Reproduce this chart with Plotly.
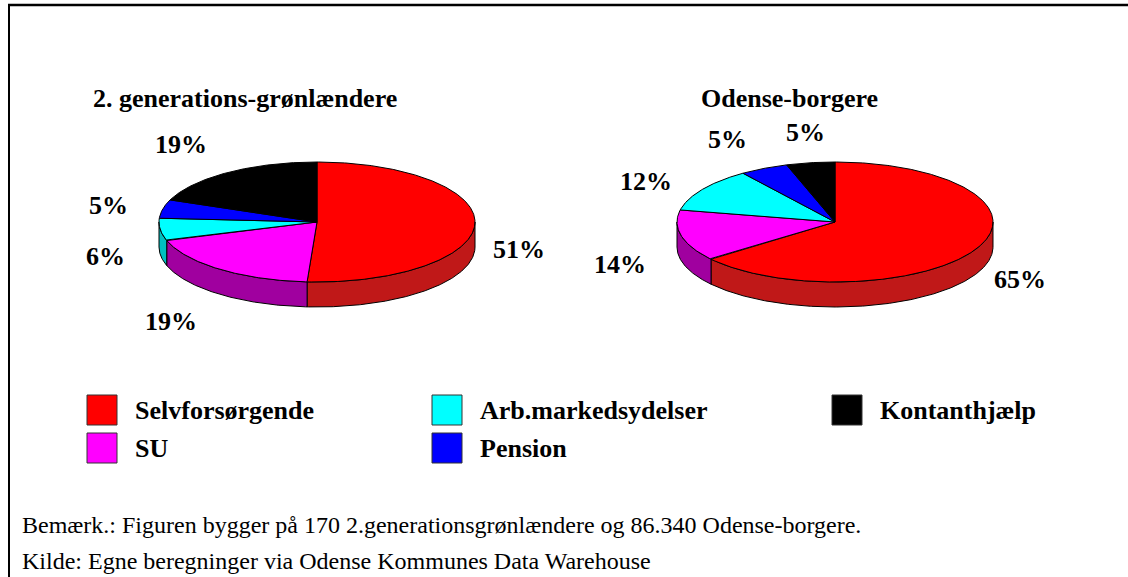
import numpy as np
import plotly.graph_objects as go

# ---------------- data ----------------
categories = ["Selvforsørgende", "SU", "Arb.markedsydelser", "Pension", "Kontanthjælp"]
pie_titles = ["2. generations-grønlændere", "Odense-borgere"]
values_groenlaendere = [51, 19, 6, 5, 19]
values_odense = [65, 14, 12, 5, 5]
notes = [
    "Bemærk.: Figuren bygger på 170 2.generationsgrønlændere og 86.340 Odense-borgere.",
    "Kilde: Egne beregninger via Odense Kommunes Data Warehouse",
]

# ---------------- style ----------------
top_colors = ["#FF0000", "#FF00FF", "#00FFFF", "#0000FF", "#000000"]
side_colors = ["#C01818", "#A0009F", "#00C0C0", "#0000C0", "#000000"]
FONT = "Liberation Serif"
W, H = 1128, 577

pies = [
    dict(values=values_groenlaendere, title=pie_titles[0], cx=317, cy=222, title_x=245),
    dict(values=values_odense, title=pie_titles[1], cx=835, cy=222, title_x=789),
]
RX, RY, DEPTH = 158, 60, 25


def rim(cx, cy, th_deg, dy=0.0):
    t = np.radians(th_deg)
    return cx + RX * np.sin(t), cy - RY * np.cos(t) + dy


fig = go.Figure()
annotations = []

for pie in pies:
    vals = np.array(pie["values"], dtype=float)
    frac = vals / vals.sum()
    edges = np.concatenate([[0.0], np.cumsum(frac)]) * 360.0
    cx, cy = pie["cx"], pie["cy"]

    # sides (front half only: 90..270 degrees)
    for i in range(len(vals)):
        a, b = edges[i], edges[i + 1]
        lo, hi = max(a, 90.0), min(b, 270.0)
        if lo < hi:
            th = np.linspace(lo, hi, max(int((hi - lo) * 2), 2))
            xt, yt = rim(cx, cy, th)
            xb, yb = rim(cx, cy, th[::-1], DEPTH)
            xs = np.concatenate([xt, xb, xt[:1]])
            ys = np.concatenate([yt, yb, yt[:1]])
            fig.add_trace(go.Scatter(x=xs, y=ys, mode="lines", fill="toself",
                                     fillcolor=side_colors[i],
                                     line=dict(color="black", width=1),
                                     hoverinfo="skip", showlegend=False))

    # tops
    for i in range(len(vals)):
        a, b = edges[i], edges[i + 1]
        th = np.linspace(a, b, max(int((b - a) * 2), 2))
        xa, ya = rim(cx, cy, th)
        xs = np.concatenate([[cx], xa, [cx]])
        ys = np.concatenate([[cy], ya, [cy]])
        fig.add_trace(go.Scatter(x=xs, y=ys, mode="lines", fill="toself",
                                 fillcolor=top_colors[i],
                                 line=dict(color="black", width=1),
                                 name=categories[i], hoverinfo="skip", showlegend=False))

    # percentage labels
    for i in range(len(vals)):
        mid = (edges[i] + edges[i + 1]) / 2.0
        s, c = np.sin(np.radians(mid)), np.cos(np.radians(mid))
        px, py = rim(cx, cy, mid, DEPTH if c < 0 else 0.0)
        gx = 16 if s > 0 else 34
        px += gx * s
        py += -14 * c
        xanchor = "left" if s > 0.3 else ("right" if s < -0.3 else "center")
        yanchor = "bottom" if c > 0.7 else ("top" if c < -0.7 else "middle")
        annotations.append(dict(x=px, y=py, xref="x", yref="y", text=f"{int(pie['values'][i])}%",
                                showarrow=False, xanchor=xanchor, yanchor=yanchor,
                                font=dict(family=FONT, size=26, color="black", weight="bold")))

    annotations.append(dict(x=pie["title_x"], y=98, xref="x", yref="y", text=pie["title"],
                            showarrow=False, xanchor="center", yanchor="middle",
                            font=dict(family=FONT, size=26, color="black", weight="bold")))

# legend (manual, 2 rows, column-major)
col_x = [102, 447, 847]
row_y = [410, 448]
lx, ly = [], []
for i, cat in enumerate(categories):
    x0 = col_x[i // 2]
    y0 = row_y[i % 2]
    lx.append(x0)
    ly.append(y0)
    annotations.append(dict(x=x0 + 31, y=y0, xref="x", yref="y", text=cat, showarrow=False,
                            xanchor="left", yanchor="middle",
                            font=dict(family=FONT, size=26, color="black", weight="bold")))
fig.add_trace(go.Scatter(x=lx, y=ly, mode="markers",
                         marker=dict(symbol="square", size=30, color=top_colors,
                                     line=dict(color="#333333", width=1)),
                         hoverinfo="skip", showlegend=False))

# notes
for j, t in enumerate(notes):
    annotations.append(dict(x=20, y=525 + 36 * j, xref="x", yref="y", text=t, showarrow=False,
                            xanchor="left", yanchor="middle",
                            font=dict(family=FONT, size=24, color="black")))

shapes = [
    dict(type="line", xref="x", yref="y", x0=8, x1=W, y0=5, y1=5, line=dict(color="black", width=2.5)),
    dict(type="line", xref="x", yref="y", x0=9, x1=9, y0=5, y1=H, line=dict(color="black", width=2)),
]

fig.update_layout(
    width=W, height=H, margin=dict(l=0, r=0, t=0, b=0),
    paper_bgcolor="white", plot_bgcolor="white",
    xaxis=dict(range=[0, W], visible=False, fixedrange=True),
    yaxis=dict(range=[H, 0], visible=False, fixedrange=True),
    annotations=annotations, shapes=shapes, showlegend=False, hovermode=False,
)

fig.write_html(
    "out.html",
    config={"displayModeBar": False},
    post_script="document.body.style.margin='0';document.body.style.overflow='hidden';",
)
